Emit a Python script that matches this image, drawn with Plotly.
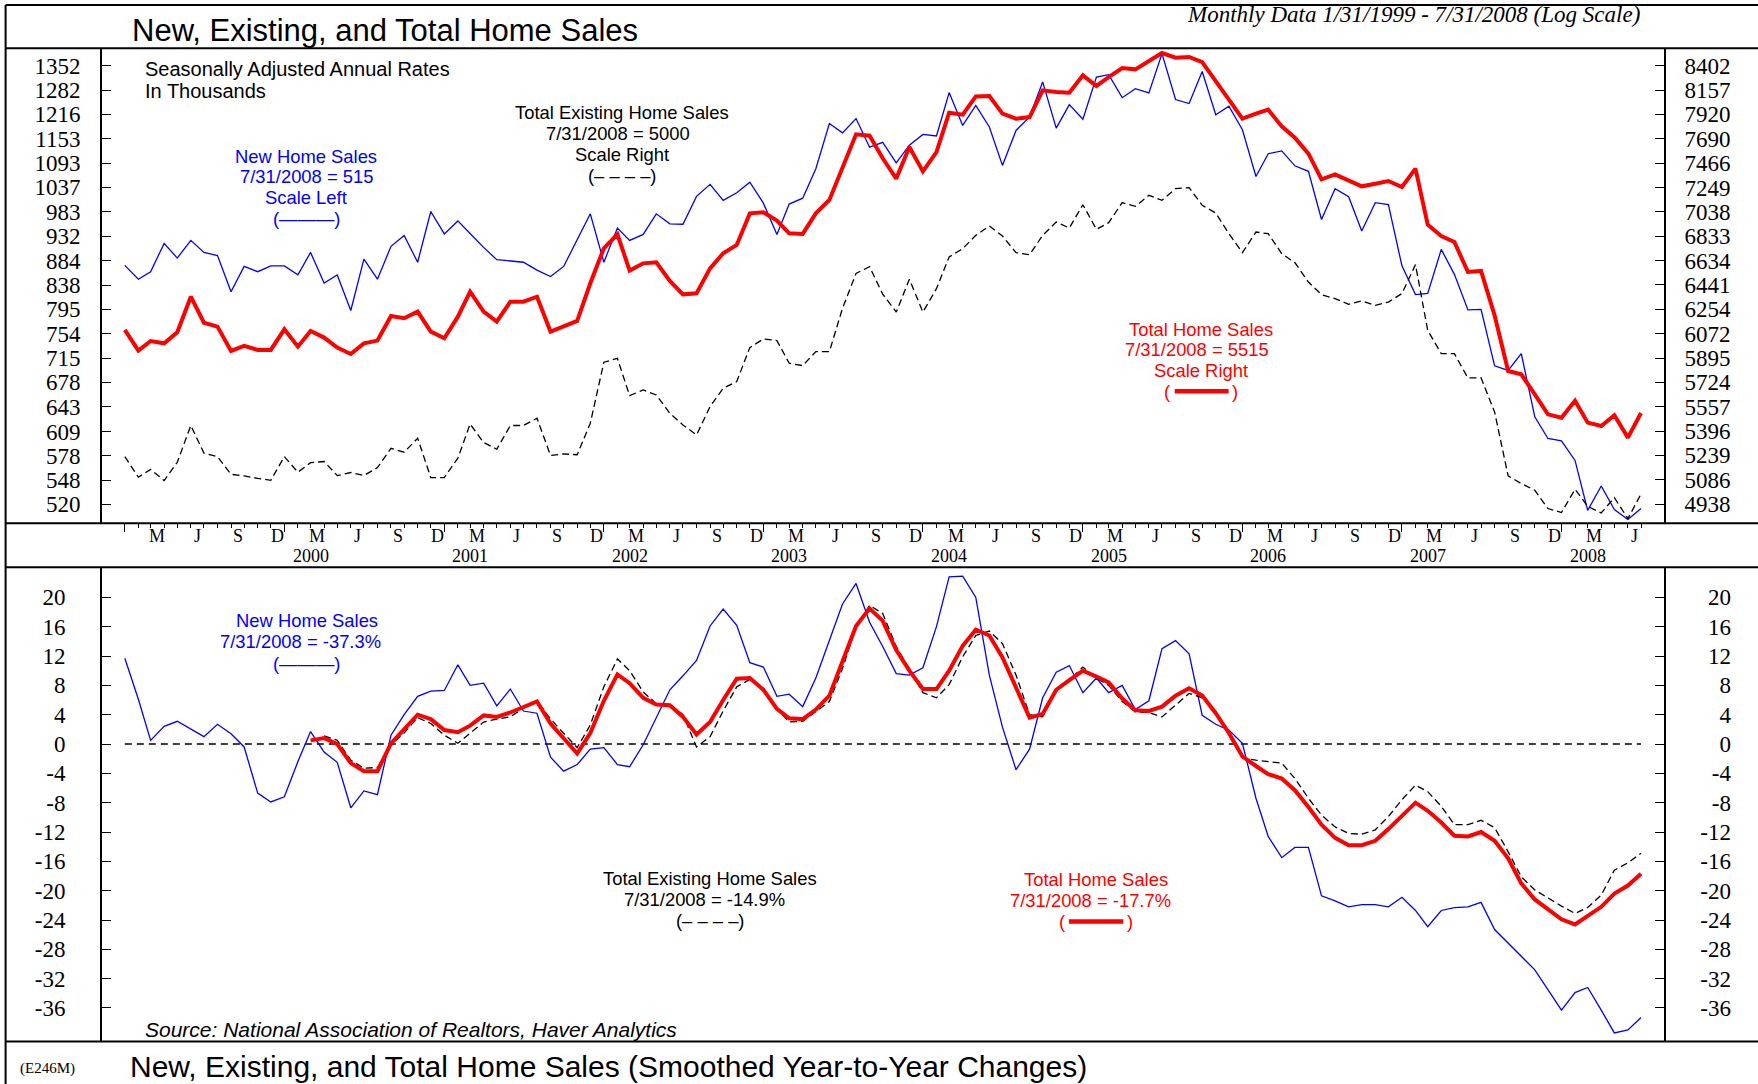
import pandas as pd
import plotly.graph_objects as go

W, H = 1758, 1084

# ---------------- data ----------------
months = pd.date_range("1999-01-01", "2008-07-01", freq="MS")

# Top panel (levels, thousands, SAAR)
new_home_sales = [
    875, 849, 863, 918, 889, 924, 900, 894, 826, 873, 863, 874,
    874, 857, 900, 842, 857, 793, 887, 849, 912, 934, 881, 984,
    937, 964, 938, 910, 886, 884, 881, 866, 854, 873, 925, 979,
    881, 949, 924, 936, 979, 958, 957, 1017, 1044, 1008, 1025, 1049,
    1002, 936, 1000, 1013, 1080, 1192, 1168, 1205, 1132, 1144, 1094, 1137,
    1164, 1160, 1275, 1187, 1240, 1183, 1088, 1174, 1209, 1305, 1180, 1242,
    1203, 1319, 1326, 1261, 1286, 1274, 1388, 1256, 1245, 1335, 1215, 1238,
    1176, 1062, 1116, 1123, 1087, 1074, 967, 1034, 1016, 943, 1003, 999,
    874, 821, 823, 906, 858, 794, 795, 703, 696, 722, 629, 600,
    597, 572, 513, 541, 514, 503, 515,
]
existing_home_sales = [
    5231, 5102, 5151, 5081, 5195, 5432, 5253, 5231, 5120, 5110, 5095, 5083,
    5231, 5133, 5193, 5200, 5112, 5131, 5112, 5162, 5284, 5259, 5349, 5100,
    5100, 5221, 5442, 5321, 5278, 5432, 5432, 5480, 5238, 5248, 5243, 5447,
    5865, 5893, 5632, 5671, 5637, 5513, 5436, 5370, 5558, 5683, 5729, 5970,
    6033, 6021, 5858, 5841, 5941, 5941, 6261, 6532, 6585, 6370, 6233, 6485,
    6233, 6412, 6663, 6731, 6840, 6918, 6835, 6698, 6682, 6840, 6952, 6901,
    7099, 6890, 6946, 7117, 7085, 7180, 7137, 7239, 7247, 7094, 7028, 6854,
    6698, 6868, 6854, 6690, 6618, 6464, 6366, 6335, 6292, 6317, 6284, 6309,
    6374, 6602, 6096, 5926, 5926, 5754, 5756, 5522, 5110, 5063, 5022, 4912,
    4888, 5028, 4925, 4886, 4977, 4852, 5000,
]
total_home_sales = [
    6099, 5948, 6018, 6001, 6082, 6350, 6153, 6124, 5946, 5982, 5953, 5953,
    6104, 5977, 6091, 6043, 5970, 5924, 6001, 6021, 6203, 6186, 6236, 6087,
    6038, 6198, 6389, 6236, 6161, 6312, 6312, 6350, 6087, 6129, 6166, 6454,
    6734, 6849, 6554, 6612, 6620, 6472, 6368, 6376, 6572, 6693, 6761, 7025,
    7034, 6963, 6857, 6852, 7025, 7140, 7434, 7731, 7719, 7510, 7327, 7613,
    7392, 7567, 7937, 7918, 8095, 8099, 7927, 7879, 7895, 8155, 8138, 8132,
    8304, 8198, 8287, 8378, 8365, 8450, 8532, 8484, 8491, 8439, 8247, 8073,
    7879, 7927, 7966, 7806, 7700, 7552, 7321, 7365, 7306, 7259, 7282, 7306,
    7253, 7416, 6929, 6835, 6785, 6543, 6551, 6208, 5803, 5780, 5641, 5506,
    5484, 5598, 5451, 5429, 5500, 5353, 5515,
]

# Bottom panel (smoothed year-to-year % changes)
new_yoy = [
    11.7, 6.1, 0.5, 2.4, 3.1, 2.0, 1.0, 2.7, 1.4, -0.4, -6.7, -7.9,
    -7.2, -2.4, 1.7, -1.1, -2.5, -8.7, -6.4, -6.9, 1.2, 4.0, 6.5, 7.2,
    7.3, 10.8, 8.0, 8.3, 5.2, 7.5, 4.5, 4.2, -1.8, -3.7, -2.8, -0.7,
    -0.5, -2.8, -3.1, -0.1, 3.6, 7.4, 9.3, 11.4, 16.1, 18.4, 16.2, 11.1,
    10.5, 6.5, 6.8, 5.1, 9.0, 14.2, 19.1, 21.9, 16.6, 13.3, 9.6, 9.4,
    10.4, 16.0, 22.8, 22.9, 20.0, 9.4, 2.3, -3.5, -0.7, 6.3, 9.8, 10.7,
    7.0, 9.0, 7.0, 8.0, 4.7, 5.9, 13.0, 14.1, 12.3, 3.9, 2.7, 1.9,
    0.1, -7.4, -12.6, -15.5, -14.1, -14.1, -20.7, -21.4, -22.2, -21.9, -21.9, -22.2,
    -20.9, -22.7, -24.9, -22.7, -22.3, -22.2, -21.6, -25.3, -27.2, -29.0, -30.8, -33.5,
    -36.3, -33.9, -33.2, -36.3, -39.4, -39.0, -37.3,
]
total_yoy_start = "2000-03-01"
total_yoy = [
    0.5, 0.8, 0.0, -2.6, -3.7, -3.7, 0.1, 2.0, 4.0, 3.4,
    1.9, 1.6, 2.5, 3.9, 3.7, 4.3, 5.0, 5.8, 2.8, 0.8, -1.3, 1.5,
    5.9, 9.5, 8.3, 6.3, 5.4, 5.3, 3.7, 1.3, 3.0, 6.0, 8.9, 9.0,
    7.4, 4.8, 3.5, 3.4, 4.7, 6.6, 11.2, 16.1, 18.5, 16.8, 12.8, 10.0,
    7.5, 7.5, 10.0, 13.4, 15.6, 14.8, 11.8, 7.6, 3.6, 4.1, 7.4, 8.7,
    10.0, 9.2, 8.4, 6.2, 4.6, 4.5, 5.1, 6.6, 7.6, 6.6, 4.2, 1.5,
    -1.7, -3.0, -4.1, -4.7, -6.3, -8.6, -11.0, -12.8, -13.8, -13.8, -13.2, -11.6,
    -9.8, -8.0, -9.1, -10.7, -12.5, -12.6, -12.0, -13.2, -15.6, -19.0, -21.2, -22.6,
    -23.9, -24.6, -23.4, -22.2, -20.4, -19.3, -17.7,
]
existing_yoy_start = "2000-04-01"
existing_yoy = [
    1.1, 0.5, -2.2, -3.3, -3.2, -0.1, 1.5, 3.6, 2.8,
    1.2, 0.1, 1.5, 3.0, 3.4, 3.7, 4.9, 5.9, 3.4, 1.5, -0.5, 2.6,
    7.8, 11.6, 10.0, 7.1, 5.5, 5.4, 4.0, -0.4, 1.0, 4.5, 7.8, 8.8,
    7.6, 4.8, 3.0, 3.1, 4.4, 5.8, 10.3, 16.0, 18.9, 17.8, 13.3, 10.3,
    7.0, 6.3, 8.1, 11.9, 14.8, 15.4, 13.7, 9.4, 4.0, 3.7, 7.5, 8.7,
    10.5, 9.0, 8.0, 5.8, 4.4, 4.3, 3.7, 5.3, 6.9, 6.3, 4.4, 1.7,
    -1.9, -2.2, -2.4, -2.6, -4.7, -7.4, -9.7, -11.3, -12.2, -12.3, -11.7, -9.9,
    -7.6, -5.6, -6.5, -8.5, -11.0, -11.0, -10.4, -11.4, -14.7, -18.1, -19.9, -21.0,
    -22.1, -23.1, -22.3, -20.6, -17.2, -16.2, -14.9,
]

# Tick labels
left_ticks = [1352, 1282, 1216, 1153, 1093, 1037, 983, 932, 884, 838, 795,
              754, 715, 678, 643, 609, 578, 548, 520]
right_ticks = [8402, 8157, 7920, 7690, 7466, 7249, 7038, 6833, 6634, 6441,
               6254, 6072, 5895, 5724, 5557, 5396, 5239, 5086, 4938]
pct_ticks = [20, 16, 12, 8, 4, 0, -4, -8, -12, -16, -20, -24, -28, -32, -36]
month_letters = {3: "M", 6: "J", 9: "S", 12: "D"}
year_labels = [2000, 2001, 2002, 2003, 2004, 2005, 2006, 2007, 2008]

# ---------------- layout helpers ----------------
def px(x):
    return x / W


def py(y):
    return 1 - y / H


BLUE = "#0000FF"
RED = "#FF0000"
SANS = "Liberation Sans"
SERIF = "Liberation Serif"
TICK_SIZE = 23
NOTE = 18.4          # font size of the stacked series notes

X_DOM = [px(102), px(1664)]
Y_TOP = [py(523.3), py(48.3)]
Y_BOT = [py(1041.5), py(567.3)]
XR = ["1998-11-09 19:00", "2008-08-22 14:00"]
YR_BOT = [-40.57, 24.1]

month_tick_dates = [d for d in months if d.month in month_letters]
jan_dates = [d for d in months if d.month == 1]

fig = go.Figure()

# top panel
fig.add_trace(go.Scatter(x=months, y=existing_home_sales, xaxis="x", yaxis="y2", mode="lines",
                         line=dict(color="black", width=1.3, dash="7px,4px"),
                         name="Total Existing Home Sales"))
fig.add_trace(go.Scatter(x=months, y=new_home_sales, xaxis="x", yaxis="y", mode="lines",
                         line=dict(color=BLUE, width=1.3), name="New Home Sales"))
fig.add_trace(go.Scatter(x=months, y=total_home_sales, xaxis="x", yaxis="y2", mode="lines",
                         line=dict(color=RED, width=4), name="Total Home Sales"))

# bottom panel
ex_months = pd.date_range(existing_yoy_start, periods=len(existing_yoy), freq="MS")
tot_months = pd.date_range(total_yoy_start, periods=len(total_yoy), freq="MS")
fig.add_trace(go.Scatter(x=months, y=new_yoy, xaxis="x2", yaxis="y3", mode="lines",
                         line=dict(color=BLUE, width=1.3), name="New Home Sales %"))
fig.add_trace(go.Scatter(x=ex_months, y=existing_yoy, xaxis="x2", yaxis="y3", mode="lines",
                         line=dict(color="black", width=1.3, dash="7px,4px"),
                         name="Total Existing Home Sales %"))
fig.add_trace(go.Scatter(x=tot_months, y=total_yoy, xaxis="x2", yaxis="y3", mode="lines",
                         line=dict(color=RED, width=4), name="Total Home Sales %"))
# empty trace so that the right-hand percentage scale is drawn
fig.add_trace(go.Scatter(x=[], y=[], xaxis="x2", yaxis="y4", mode="lines",
                         hoverinfo="skip", showlegend=False))

tickfont = dict(family=SERIF, size=TICK_SIZE, color="black")
datefont = dict(family=SERIF, size=18, color="black")

fig.update_layout(
    width=W, height=H,
    margin=dict(l=0, r=0, t=0, b=0, pad=0),
    paper_bgcolor="white", plot_bgcolor="white",
    showlegend=False,
    xaxis=dict(domain=X_DOM, anchor="y", type="date", range=XR, showgrid=False,
               zeroline=False, showline=False, showticklabels=False,
               tickmode="array", tickvals=jan_dates, ticks="outside", ticklen=8,
               tickwidth=1.3, tickcolor="black",
               minor=dict(tickmode="array", tickvals=list(months), ticks="outside",
                          ticklen=4, tickwidth=1, tickcolor="black", showgrid=False)),
    xaxis2=dict(domain=X_DOM, anchor="y3", type="date", range=XR, visible=False,
                showgrid=False, zeroline=False),
    yaxis=dict(domain=Y_TOP, anchor="x", type="log", range=[2.69791, 3.14744],
               tickmode="array", tickvals=left_ticks, ticktext=[str(v) for v in left_ticks],
               ticks="inside", ticklen=9, tickwidth=1.3, tickcolor="black",
               showline=True, linewidth=2, linecolor="black", showgrid=False,
               zeroline=False, tickfont=tickfont, ticklabelstandoff=15),
    yaxis2=dict(overlaying="y", side="right", anchor="x", type="log", range=[3.68348, 3.93354],
                tickmode="array", tickvals=right_ticks, ticktext=[str(v) for v in right_ticks],
                ticks="inside", ticklen=9, tickwidth=1.3, tickcolor="black",
                showline=True, linewidth=2, linecolor="black", showgrid=False,
                zeroline=False, tickfont=tickfont, ticklabelstandoff=14),
    yaxis3=dict(domain=Y_BOT, anchor="x2", range=YR_BOT,
                tickmode="array", tickvals=pct_ticks, ticktext=[str(v) for v in pct_ticks],
                ticks="inside", ticklen=9, tickwidth=1.3, tickcolor="black",
                showline=True, linewidth=2, linecolor="black", mirror="ticks",
                showgrid=False, zeroline=False, tickfont=tickfont, ticklabelstandoff=30),
    yaxis4=dict(overlaying="y3", side="left", anchor="free", position=px(1731),
                range=YR_BOT, tickmode="array", tickvals=pct_ticks,
                ticktext=[str(v) for v in pct_ticks], ticks="", showline=False,
                showgrid=False, zeroline=False, tickfont=tickfont),
)

# ---------------- frame lines ----------------
shapes = []
frame = dict(color="black", width=2)
for yy in [5, 48.3, 523.3, 567.3, 1041.5]:
    shapes.append(dict(type="line", xref="paper", yref="paper", x0=px(5.6), x1=1.0,
                       y0=py(yy), y1=py(yy), line=frame))
shapes.append(dict(type="line", xref="paper", yref="paper", x0=px(5.6), x1=px(5.6),
                   y0=py(5), y1=0.0, line=frame))
# zero reference line in the lower panel
shapes.append(dict(type="line", xref="x2", yref="y3", x0=months[0], x1=months[-1],
                   y0=0, y1=0, layer="below",
                   line=dict(color="black", width=1.3, dash="7px,5px")))
# red legend swatches
for (x0, x1, yy) in [(1174.7, 1228.6, 391.3), (1068.9, 1123.3, 921.4)]:
    shapes.append(dict(type="line", xref="paper", yref="paper", x0=px(x0), x1=px(x1),
                       y0=py(yy), y1=py(yy), line=dict(color=RED, width=4.5)))
fig.update_layout(shapes=shapes)


def text(x, y, s, color="black", size=NOTE, family=SANS, xanchor="center"):
    fig.add_annotation(x=px(x), y=py(y), xref="paper", yref="paper", text=s,
                       showarrow=False, xanchor=xanchor, yanchor="middle",
                       font=dict(family=family, size=size, color=color), borderpad=0)


# month letters and years along the time axis (positioned on the date scale)
for d in month_tick_dates:
    fig.add_annotation(x=d + pd.Timedelta(days=15), y=py(535.5), xref="x", yref="paper",
                       text=month_letters[d.month], showarrow=False, xanchor="center",
                       yanchor="middle", font=datefont, borderpad=0)
for yv in year_labels:
    fig.add_annotation(x=pd.Timestamp(year=yv, month=3, day=1), y=py(556), xref="x",
                       yref="paper", text=str(yv), showarrow=False, xanchor="center",
                       yanchor="middle", font=datefont, borderpad=0)

# titles
text(131, 30.5, "New, Existing, and Total Home Sales", size=31, xanchor="left")
text(1413, 14.5, "<i>Monthly Data 1/31/1999 - 7/31/2008 (Log Scale)</i>", size=23, family=SERIF)
text(129, 1066, "New, Existing, and Total Home Sales (Smoothed Year-to-Year Changes)",
     size=30, xanchor="left")
text(47.7, 1068, "(E246M)", size=15, family=SERIF)

# top panel notes
text(144, 68.7, "Seasonally Adjusted Annual Rates", size=20, xanchor="left")
text(144, 91.3, "In Thousands", size=20, xanchor="left")

text(306, 156.2, "New Home Sales", color=BLUE)
text(306, 176.9, "7/31/2008 = 515", color=BLUE)
text(306, 197.6, "Scale Left", color=BLUE)
text(306.5, 218.3, "(\u2014\u2014\u2014)", color=BLUE)

text(622, 113.0, "Total Existing Home Sales")
text(618, 133.7, "7/31/2008 = 5000")
text(622, 154.4, "Scale Right")
text(622, 175.1, "(\u2013 \u2013 \u2013 \u2013)")

text(1201, 329.2, "Total Home Sales", color=RED)
text(1197, 349.9, "7/31/2008 = 5515", color=RED)
text(1201, 370.6, "Scale Right", color=RED)
text(1167.5, 391.3, "(", color=RED)
text(1235, 391.3, ")", color=RED)

# bottom panel notes
text(306.5, 620.3, "New Home Sales", color=BLUE)
text(300, 641.5, "7/31/2008 = -37.3%", color=BLUE)
text(306, 663.0, "(\u2014\u2014\u2014)", color=BLUE)

text(709.7, 878.7, "Total Existing Home Sales")
text(704.5, 899.8, "7/31/2008 = -14.9%")
text(710, 920.9, "(\u2013 \u2013 \u2013 \u2013)")

text(1096, 879.2, "Total Home Sales", color=RED)
text(1090, 900.3, "7/31/2008 = -17.7%", color=RED)
text(1062.5, 921.4, "(", color=RED)
text(1129.5, 921.4, ")", color=RED)

text(144, 1029, "<i>Source: National Association of Realtors, Haver Analytics</i>",
     size=21, xanchor="left")

fig.write_html("out.html", config={"displayModeBar": False},
               post_script="document.body.style.margin='0px';document.body.style.overflow='hidden';")
